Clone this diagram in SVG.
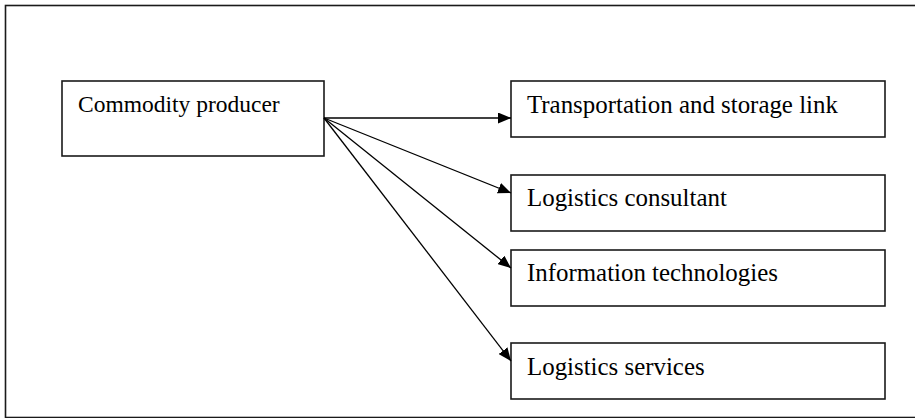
<svg xmlns="http://www.w3.org/2000/svg" width="915" height="418" viewBox="0 0 915 418">
<style>
.box{fill:#fff;stroke:#1a1a1a;stroke-width:1.6}
.lbl{font-family:"Liberation Serif","Times New Roman",serif;font-size:24.9px;fill:#000}
.conn{stroke:#000;stroke-width:1.3;fill:none}
</style>
<defs>
<marker id="arr" viewBox="0 0 13 11" refX="13" refY="5.5" markerWidth="13" markerHeight="11" markerUnits="userSpaceOnUse" orient="auto">
<path d="M0,0 L13,5.5 L0,11 Z" fill="#000"/>
</marker>
</defs>
<rect x="0" y="0" width="915" height="418" fill="#fff"/>
<rect id="frame" x="5.5" y="5.5" width="915" height="412" fill="none" stroke="#1a1a1a" stroke-width="1.6"/>
<g id="commodity">
<rect class="box" x="62" y="81" width="262" height="75"/>
<text class="lbl" x="78" y="112" style="font-size:23.5px">Commodity producer</text>
</g>
<g id="transport">
<rect class="box" x="511" y="81" width="374" height="56"/>
<text class="lbl" x="527" y="113">Transportation and storage link</text>
</g>
<g id="consultant">
<rect class="box" x="511" y="175" width="374" height="56"/>
<text class="lbl" x="527" y="206">Logistics consultant</text>
</g>
<g id="infotech">
<rect class="box" x="511" y="250" width="374" height="56"/>
<text class="lbl" x="527" y="281">Information technologies</text>
</g>
<g id="services">
<rect class="box" x="511" y="343" width="374" height="56"/>
<text class="lbl" x="527" y="375">Logistics services</text>
</g>
<g id="connectors">
<line class="conn" x1="324" y1="118" x2="511" y2="118" marker-end="url(#arr)"/>
<line class="conn" x1="324" y1="118" x2="511" y2="193" marker-end="url(#arr)"/>
<line class="conn" x1="324" y1="118" x2="511" y2="268" marker-end="url(#arr)"/>
<line class="conn" x1="324" y1="118" x2="511" y2="361" marker-end="url(#arr)"/>
</g>
</svg>
